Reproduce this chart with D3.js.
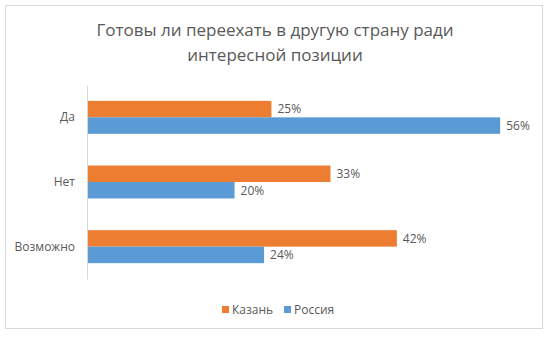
<!DOCTYPE html>
<html>
<head>
<meta charset="utf-8">
<script src="https://cdn.jsdelivr.net/npm/d3@7"></script>
<style>
  html, body { margin: 0; padding: 0; background: #fff; }
  svg { display: block; }
  text { font-family: "Open Sans", "Noto Sans", sans-serif; fill: #595959; }
</style>
</head>
<body>
<svg id="chart" width="550" height="338"></svg>
<script>
// Survey answers and their shares (percent)
const categories = ["Да", "Нет", "Возможно"];
const seriesNames = ["Казань", "Россия"];
const kazan = [25, 33, 42];
const russia = [56, 20, 24];
const colors = ["#ED7D31", "#5B9BD5"];
const titleLines = ["Готовы ли переехать в другую страну ради", "интересной позиции"];

const svg = d3.select("#chart");

// outer frame
svg.append("rect")
  .attr("x", 5.5).attr("y", 5.5)
  .attr("width", 537).attr("height", 323)
  .attr("fill", "#fff").attr("stroke", "#d9d9d9").attr("stroke-width", 1);

// title
svg.append("g").selectAll("text").data(titleLines).join("text")
  .attr("x", 275).attr("y", (d, i) => 36 + i * 25)
  .attr("text-anchor", "middle")
  .style("font-size", "17px")
  .text(d => d);

const plot = { left: 87, right: 540, top: 85, bottom: 279 };

const x = d3.scaleLinear().domain([0, 61.4]).range([plot.left, plot.right]);
const y = d3.scaleBand().domain(categories).range([plot.top, plot.bottom]).paddingInner(0.49).paddingOuter(0.245);
const ySub = d3.scaleBand().domain(seriesNames).range([0, y.bandwidth()]);

const rows = categories.map((c, i) => ({ cat: c, vals: [kazan[i], russia[i]] }));

const groups = svg.append("g").selectAll("g").data(rows).join("g")
  .attr("transform", d => `translate(0,${y(d.cat)})`);

groups.selectAll("rect").data(d => d.vals.map((v, j) => ({ v, s: seriesNames[j], j })))
  .join("rect")
  .attr("x", x(0))
  .attr("y", d => ySub(d.s))
  .attr("width", d => x(d.v) - x(0))
  .attr("height", ySub.bandwidth())
  .attr("fill", d => colors[d.j]);

groups.selectAll("text").data(d => d.vals.map((v, j) => ({ v, s: seriesNames[j], j })))
  .join("text")
  .attr("x", d => x(d.v) + 6)
  .attr("y", d => ySub(d.s) + ySub.bandwidth() / 2)
  .attr("dy", "0.36em")
  .style("font-size", "12px")
  .text(d => d.v + "%");

// category axis
const yAxis = svg.append("g")
  .attr("transform", `translate(${plot.left},0)`)
  .call(d3.axisLeft(y).tickSize(0).tickPadding(12));
yAxis.select(".domain").attr("stroke", "#d9d9d9");
yAxis.selectAll("text")
  .style("font-size", "12px")
  .style("font-family", "'Open Sans', 'Noto Sans', sans-serif")
  .attr("fill", "#595959");

// legend
const legendItems = [
  { name: seriesNames[0], color: colors[0], x: 222 },
  { name: seriesNames[1], color: colors[1], x: 284 }
];
const lg = svg.append("g").selectAll("g").data(legendItems).join("g")
  .attr("transform", d => `translate(${d.x},306)`);
lg.append("rect").attr("width", 7).attr("height", 7).attr("fill", d => d.color);
lg.append("text").attr("x", 10).attr("y", 3.5).attr("dy", "0.36em")
  .style("font-size", "12px").text(d => d.name);
</script>
</body>
</html>
